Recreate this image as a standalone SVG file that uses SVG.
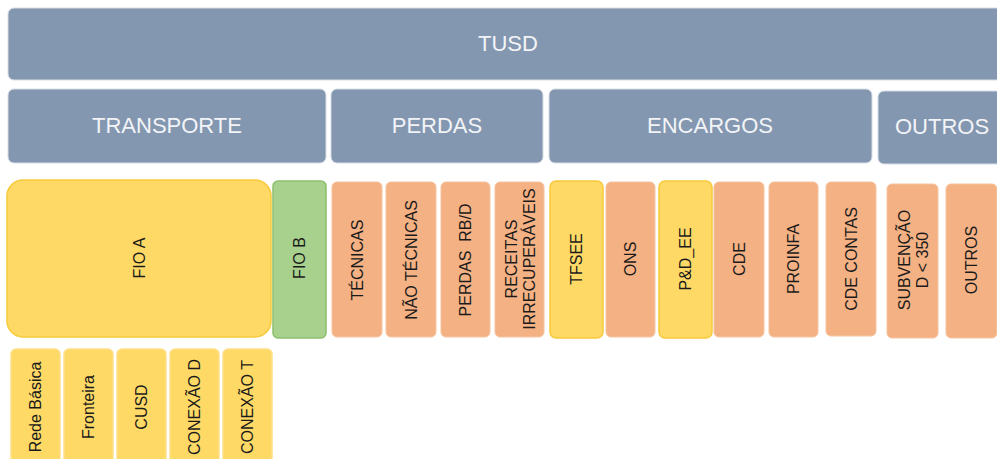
<svg xmlns="http://www.w3.org/2000/svg" width="997" height="459" viewBox="0 0 997 459">
<style>
.hdr{fill:#8497b0;stroke:#d6dce5;stroke-width:1}
.ht{font-family:"Liberation Sans",Arial,sans-serif;font-size:22px;fill:#f2f4f7;text-anchor:middle;dominant-baseline:central}
.yel{fill:#ffd966;stroke:#f8c93a;stroke-width:1.5}
.grn{fill:#a9d18e;stroke:#8cbf6c;stroke-width:1.5}
.org{fill:#f4b183;stroke:#f7c4a0;stroke-width:1}
.vt{font-family:"Liberation Sans",Arial,sans-serif;font-size:16px;fill:#1a1a1a;text-anchor:middle;dominant-baseline:central;white-space:pre}
</style>
<rect width="997" height="459" fill="#ffffff"/>
<g id="tusd"><rect class="hdr" x="8" y="8" width="1000" height="72" rx="6"/><text class="ht" x="508" y="43">TUSD</text></g>
<g id="transporte"><rect class="hdr" x="8" y="89" width="318" height="74" rx="6"/><text class="ht" x="167" y="125">TRANSPORTE</text></g>
<g id="perdas"><rect class="hdr" x="331" y="89" width="212" height="74" rx="6"/><text class="ht" x="437" y="125">PERDAS</text></g>
<g id="encargos"><rect class="hdr" x="549" y="89" width="323" height="74" rx="6"/><text class="ht" x="710" y="125">ENCARGOS</text></g>
<g id="outros-h"><rect class="hdr" x="878" y="91" width="130" height="73" rx="6"/><text class="ht" x="942" y="126">OUTROS</text></g>

<g id="fio-a"><rect class="yel" x="7" y="180" width="264" height="157" rx="16"/><text class="vt" transform="translate(139,258) rotate(-90)">FIO A</text></g>
<g id="fio-b"><rect class="grn" x="273" y="181" width="53" height="157" rx="5"/><text class="vt" transform="translate(299.5,258) rotate(-90)">FIO B</text></g>

<g id="tecnicas"><rect class="org" x="332" y="182" width="50" height="155" rx="5"/><text class="vt" transform="translate(357,260) rotate(-90)">TÉCNICAS</text></g>
<g id="nao-tecnicas"><rect class="org" x="386" y="182" width="50" height="155" rx="5"/><text class="vt" transform="translate(411,260) rotate(-90)">NÃO TÉCNICAS</text></g>
<g id="perdas-rbd"><rect class="org" x="441" y="182" width="49" height="155" rx="5"/><text class="vt" transform="translate(465.5,260) rotate(-90)">PERDAS  RB/D</text></g>
<g id="receitas"><rect class="org" x="495" y="182" width="49" height="155" rx="5"/><text class="vt" transform="translate(519.5,259) rotate(-90)"><tspan x="0" y="-9">RECEITAS</tspan><tspan x="0" y="9">IRRECUPERÁVEIS</tspan></text></g>
<g id="tfsee"><rect class="yel" x="550" y="181" width="53" height="157" rx="6"/><text class="vt" transform="translate(576.5,259) rotate(-90)">TFSEE</text></g>
<g id="ons"><rect class="org" x="606" y="182" width="49" height="155" rx="5"/><text class="vt" transform="translate(630.5,259) rotate(-90)">ONS</text></g>
<g id="pd-ee"><rect class="yel" x="659" y="181" width="53" height="157" rx="6"/><text class="vt" transform="translate(685.5,259) rotate(-90)">P&amp;D_EE</text></g>
<g id="cde"><rect class="org" x="714" y="182" width="50" height="155" rx="5"/><text class="vt" transform="translate(739,259) rotate(-90)">CDE</text></g>
<g id="proinfa"><rect class="org" x="769" y="182" width="49" height="155" rx="5"/><text class="vt" transform="translate(793.5,259) rotate(-90)">PROINFA</text></g>
<g id="cde-contas"><rect class="org" x="826" y="182" width="50" height="154" rx="5"/><text class="vt" transform="translate(851,259) rotate(-90)">CDE CONTAS</text></g>
<g id="subvencao"><rect class="org" x="887" y="184" width="51" height="154" rx="5"/><text class="vt" transform="translate(912.5,260) rotate(-90)"><tspan x="0" y="-9">SUBVENÇÃO</tspan><tspan x="0" y="9">D &lt; 350</tspan></text></g>
<g id="outros"><rect class="org" x="946" y="184" width="51" height="154" rx="5"/><text class="vt" transform="translate(971.5,260) rotate(-90)">OUTROS</text></g>

<g id="rede-basica"><rect class="yel" x="11" y="349" width="49" height="120" rx="5" style="stroke:#ffe08a"/><text class="vt" transform="translate(35.5,407) rotate(-90)">Rede Básica</text></g>
<g id="fronteira"><rect class="yel" x="64" y="349" width="49" height="120" rx="5" style="stroke:#ffe08a"/><text class="vt" transform="translate(88.5,407) rotate(-90)">Fronteira</text></g>
<g id="cusd"><rect class="yel" x="117" y="349" width="49" height="120" rx="5" style="stroke:#ffe08a"/><text class="vt" transform="translate(141.5,407) rotate(-90)">CUSD</text></g>
<g id="conexao-d"><rect class="yel" x="170" y="349" width="49" height="120" rx="5" style="stroke:#ffe08a"/><text class="vt" transform="translate(194.5,407) rotate(-90)">CONEXÃO D</text></g>
<g id="conexao-t"><rect class="yel" x="223" y="349" width="49" height="120" rx="5" style="stroke:#ffe08a"/><text class="vt" transform="translate(247.5,407) rotate(-90)">CONEXÃO T</text></g>
<g id="connectors"></g>
</svg>
